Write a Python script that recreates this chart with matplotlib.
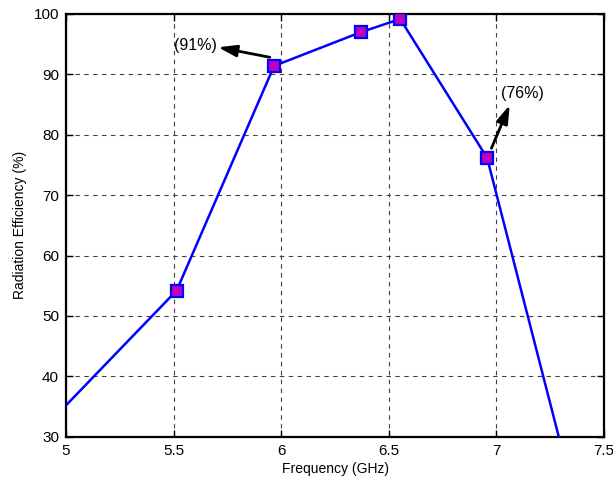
import matplotlib
matplotlib.use("Agg")
import matplotlib.pyplot as plt

freq = [4.8, 5.514, 5.967, 6.369, 6.553, 6.957, 7.4]
eff = [27.8, 54.2, 91.4, 96.97, 99.17, 76.16, 14.7]
xticks = [5, 5.5, 6, 6.5, 7, 7.5]
yticks = [30, 40, 50, 60, 70, 80, 90, 100]

plt.rcParams['font.family'] = ['Liberation Sans', 'DejaVu Sans']
fig = plt.figure(figsize=(6.13, 4.82), dpi=100)
ax = fig.add_axes([0.1077, 0.094, 0.8776, 0.877])
ax.plot(freq, eff, color='#0000FF', lw=1.8, marker='s', ms=8,
        mfc='#C000C0', mec='#0000FF', mew=1.6, clip_on=True, zorder=3)
ax.set_xlim(5, 7.5)
ax.set_ylim(30, 100)
ax.set_xticks(xticks)
ax.set_xticklabels([f"{t:g}" for t in xticks])
ax.set_yticks(yticks)
ax.grid(True, linestyle=(0, (4, 4)), color='#404040', lw=0.8)
ax.tick_params(direction='in', top=True, right=True, labelsize=11, length=5, width=1, pad=5)
for s in ax.spines.values():
    s.set_linewidth(1.6)
ax.set_xlabel('Frequency (GHz)', fontsize=10, labelpad=3)
ax.set_ylabel('Radiation Efficiency (%)', fontsize=10, labelpad=5)

arrow = dict(arrowstyle='-|>,head_length=1.1,head_width=0.35', color='black', lw=2,
             shrinkA=0, shrinkB=0)
ax.annotate('', xy=(5.707, 94.49), xytext=(5.947, 92.83), arrowprops=arrow)
ax.text(5.703, 94.7, '(91%)', ha='right', va='center', fontsize=11.5)
ax.annotate('', xy=(7.062, 84.93), xytext=(6.977, 77.76), arrowprops=arrow)
ax.text(7.02, 86.75, '(76%)', ha='left', va='center', fontsize=11.5)

fig.savefig('out.png', dpi=100)
